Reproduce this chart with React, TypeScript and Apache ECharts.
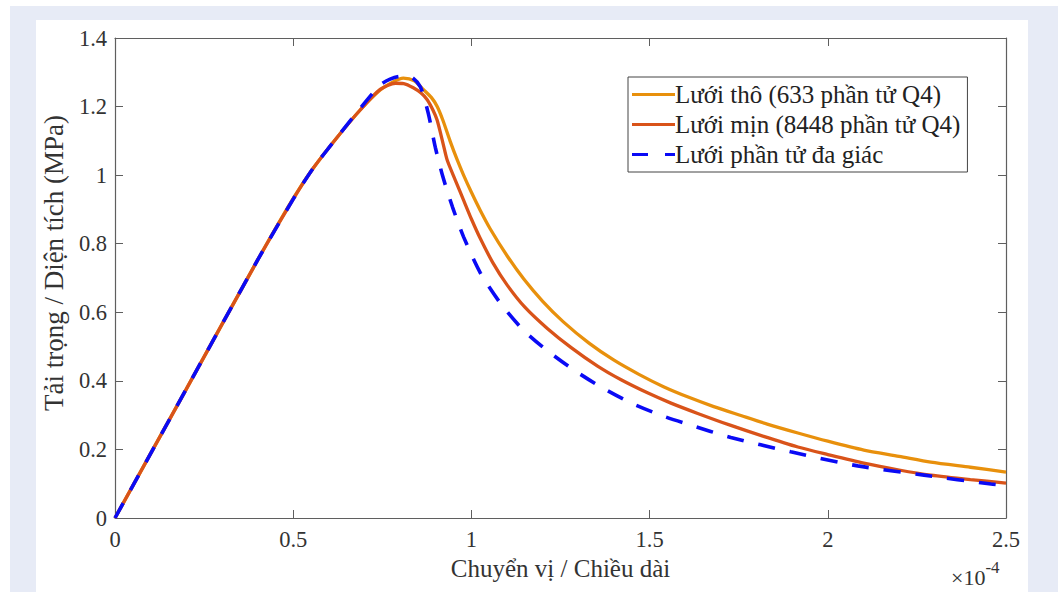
import React, { useEffect, useRef } from "react";
import * as echarts from "echarts";

// x values in units of 1e-4
const coarseName = "Lưới thô (633 phần tử Q4)";
const fineName = "Lưới mịn (8448 phần tử Q4)";
const polyName = "Lưới phần tử đa giác";

const coarseData: number[][] = [
  [0, 0], [0.2, 0.376], [0.4, 0.752], [0.5, 0.932], [0.556, 1.02], [0.623, 1.11],
  [0.688, 1.19], [0.744, 1.248], [0.78, 1.272], [0.809, 1.283], [0.84, 1.275],
  [0.865, 1.25], [0.888, 1.226], [0.904, 1.2], [0.92, 1.16], [0.94, 1.1],
  [0.96, 1.045], [0.978, 1.0], [1.0, 0.95], [1.025, 0.897], [1.053, 0.843],
  [1.1, 0.765], [1.147, 0.697], [1.2, 0.632], [1.258, 0.572], [1.33, 0.51],
  [1.399, 0.461], [1.47, 0.419], [1.539, 0.383], [1.61, 0.352], [1.68, 0.325],
  [1.756, 0.299], [1.83, 0.274], [1.916, 0.248], [2.0, 0.224], [2.101, 0.198],
  [2.2, 0.18], [2.289, 0.163], [2.4, 0.148], [2.5, 0.134],
];

const fineData: number[][] = [
  [0, 0], [0.2, 0.376], [0.4, 0.752], [0.5, 0.93], [0.556, 1.02], [0.623, 1.11],
  [0.688, 1.19], [0.744, 1.25], [0.787, 1.268], [0.81, 1.267], [0.837, 1.255],
  [0.858, 1.24], [0.876, 1.22], [0.892, 1.19], [0.904, 1.16], [0.921, 1.09],
  [0.932, 1.044], [0.955, 0.985], [0.978, 0.927], [1.0, 0.872], [1.025, 0.815],
  [1.06, 0.745], [1.1, 0.68], [1.15, 0.615], [1.213, 0.553], [1.28, 0.497],
  [1.354, 0.443], [1.42, 0.403], [1.494, 0.365], [1.56, 0.335], [1.635, 0.305],
  [1.728, 0.27], [1.82, 0.238], [1.916, 0.207], [2.0, 0.185], [2.101, 0.16],
  [2.2, 0.14], [2.289, 0.125], [2.4, 0.112], [2.5, 0.102],
];

const polyData: number[][] = [
  [0, 0], [0.2, 0.376], [0.4, 0.752], [0.5, 0.93], [0.556, 1.02], [0.623, 1.11],
  [0.688, 1.195], [0.744, 1.263], [0.772, 1.28], [0.8, 1.288], [0.829, 1.287],
  [0.857, 1.257], [0.879, 1.18], [0.899, 1.08], [0.92, 0.995], [0.947, 0.907],
  [0.978, 0.82], [1.025, 0.715], [1.081, 0.627], [1.146, 0.548], [1.213, 0.488],
  [1.287, 0.432], [1.362, 0.383], [1.447, 0.336], [1.531, 0.3], [1.615, 0.271],
  [1.728, 0.235], [1.896, 0.193], [2.084, 0.152], [2.27, 0.125], [2.458, 0.099],
  [2.5, 0.095],
];

const xTicks = [0, 0.5, 1, 1.5, 2, 2.5];
const yTicks = [0, 0.2, 0.4, 0.6, 0.8, 1, 1.2, 1.4];

const FONT = "'Liberation Serif', 'Times New Roman', serif";
const AXIS_COLOR = "#5f5f5f";
const TEXT_COLOR = "#333333";

function tick() {
  return { show: true, inside: true, length: 8, lineStyle: { color: AXIS_COLOR, width: 1 } };
}
function line() {
  return { show: true, onZero: false, lineStyle: { color: AXIS_COLOR, width: 1.2 } };
}

export default function App() {
  const ref = useRef<HTMLDivElement>(null);

  useEffect(() => {
    if (!ref.current) return;
    const chart = echarts.init(ref.current, undefined, { renderer: "svg" });
    const fmt = (v: number) => String(Math.round(v * 10) / 10);
    chart.setOption({
      animation: false,
      backgroundColor: "transparent",
      grid: { left: 115, right: 52, top: 38, bottom: 74, containLabel: false },
      xAxis: [
        {
          type: "value",
          min: xTicks[0],
          max: xTicks[xTicks.length - 1],
          interval: 0.5,
          position: "bottom",
          axisLine: line(),
          axisTick: tick(),
          splitLine: { show: false },
          axisLabel: {
            formatter: fmt,
            color: TEXT_COLOR,
            fontFamily: FONT,
            fontSize: 22.5,
            margin: 10,
          },
          name: "Chuyển vị / Chiều dài",
          nameLocation: "middle",
          nameGap: 38,
          nameTextStyle: { color: TEXT_COLOR, fontFamily: FONT, fontSize: 25 },
        },
        {
          type: "value",
          min: 0,
          max: 2.5,
          interval: 0.5,
          position: "top",
          axisLine: line(),
          axisTick: tick(),
          axisLabel: { show: false },
          splitLine: { show: false },
        },
      ],
      yAxis: [
        {
          type: "value",
          min: yTicks[0],
          max: yTicks[yTicks.length - 1],
          interval: 0.2,
          position: "left",
          axisLine: line(),
          axisTick: tick(),
          splitLine: { show: false },
          axisLabel: {
            formatter: fmt,
            color: TEXT_COLOR,
            fontFamily: FONT,
            fontSize: 22.5,
            margin: 8,
          },
          name: "Tải trọng / Diện tích (MPa)",
          nameLocation: "middle",
          nameGap: 42,
          nameTextStyle: { color: TEXT_COLOR, fontFamily: FONT, fontSize: 27, padding: [0, 0, 0, 30] },
        },
        {
          type: "value",
          min: 0,
          max: 1.4,
          interval: 0.2,
          position: "right",
          axisLine: line(),
          axisTick: tick(),
          axisLabel: { show: false },
          splitLine: { show: false },
        },
      ],
      legend: {
        orient: "vertical",
        left: 628,
        top: 77,
        padding: [5, 7, 5, 4],
        itemGap: 5,
        itemWidth: 43,
        itemHeight: 3,
        symbolKeepAspect: false,
        backgroundColor: "#ffffff",
        borderColor: "#444444",
        borderWidth: 1,
        borderRadius: 0,
        itemStyle: { borderWidth: 0 },
        lineStyle: { width: 0 },
        textStyle: { color: "#222222", fontFamily: FONT, fontSize: 25, padding: [0, 0, 0, -5] },
        data: [
          { name: coarseName, icon: "path://M0,0H43V3H0Z" },
          { name: fineName, icon: "path://M0,0H43V3H0Z" },
          { name: polyName, icon: "path://M0,0H16V3H0Z M33,0H43V3H33Z" },
        ],
      },
      series: [
        {
          name: coarseName,
          type: "line",
          data: coarseData,
          symbol: "none",
          showSymbol: false,
          smooth: 0.25,
          lineStyle: { color: "#E8900C", width: 3.3 },
          itemStyle: { color: "#E8900C" },
          z: 2,
        },
        {
          name: fineName,
          type: "line",
          data: fineData,
          symbol: "none",
          showSymbol: false,
          smooth: 0.25,
          lineStyle: { color: "#D95319", width: 3.3 },
          itemStyle: { color: "#D95319" },
          z: 3,
        },
        {
          name: polyName,
          type: "line",
          data: polyData,
          symbol: "none",
          showSymbol: false,
          smooth: 0.25,
          lineStyle: { color: "#0a0af5", width: 3.6, type: [17, 15] },
          itemStyle: { color: "#0a0af5" },
          z: 4,
        },
      ],
      graphic: [
        {
          type: "text",
          left: 951,
          top: 559,
          style: {
            text: "{a|×10}{b|-4}",
            rich: {
              a: { fontFamily: FONT, fontSize: 22, fill: TEXT_COLOR, verticalAlign: "bottom" },
              b: { fontFamily: FONT, fontSize: 17, fill: TEXT_COLOR, verticalAlign: "top", padding: [0, 0, 12, 0] },
            },
          },
        },
      ],
    });
    return () => chart.dispose();
  }, []);

  return (
    <div style={{ position: "absolute", left: 0, top: 0, width: 1058, height: 592, background: "#ffffff", overflow: "hidden" }}>
      <div style={{ position: "absolute", left: 10, top: 6, right: 0, bottom: 0, background: "#e7ebf6" }} />
      <div style={{ position: "absolute", left: 36, top: 20, width: 992, height: 572, background: "#ffffff" }} />
      <div ref={ref} style={{ position: "absolute", left: 0, top: 0, width: 1058, height: 592 }} />
    </div>
  );
}
